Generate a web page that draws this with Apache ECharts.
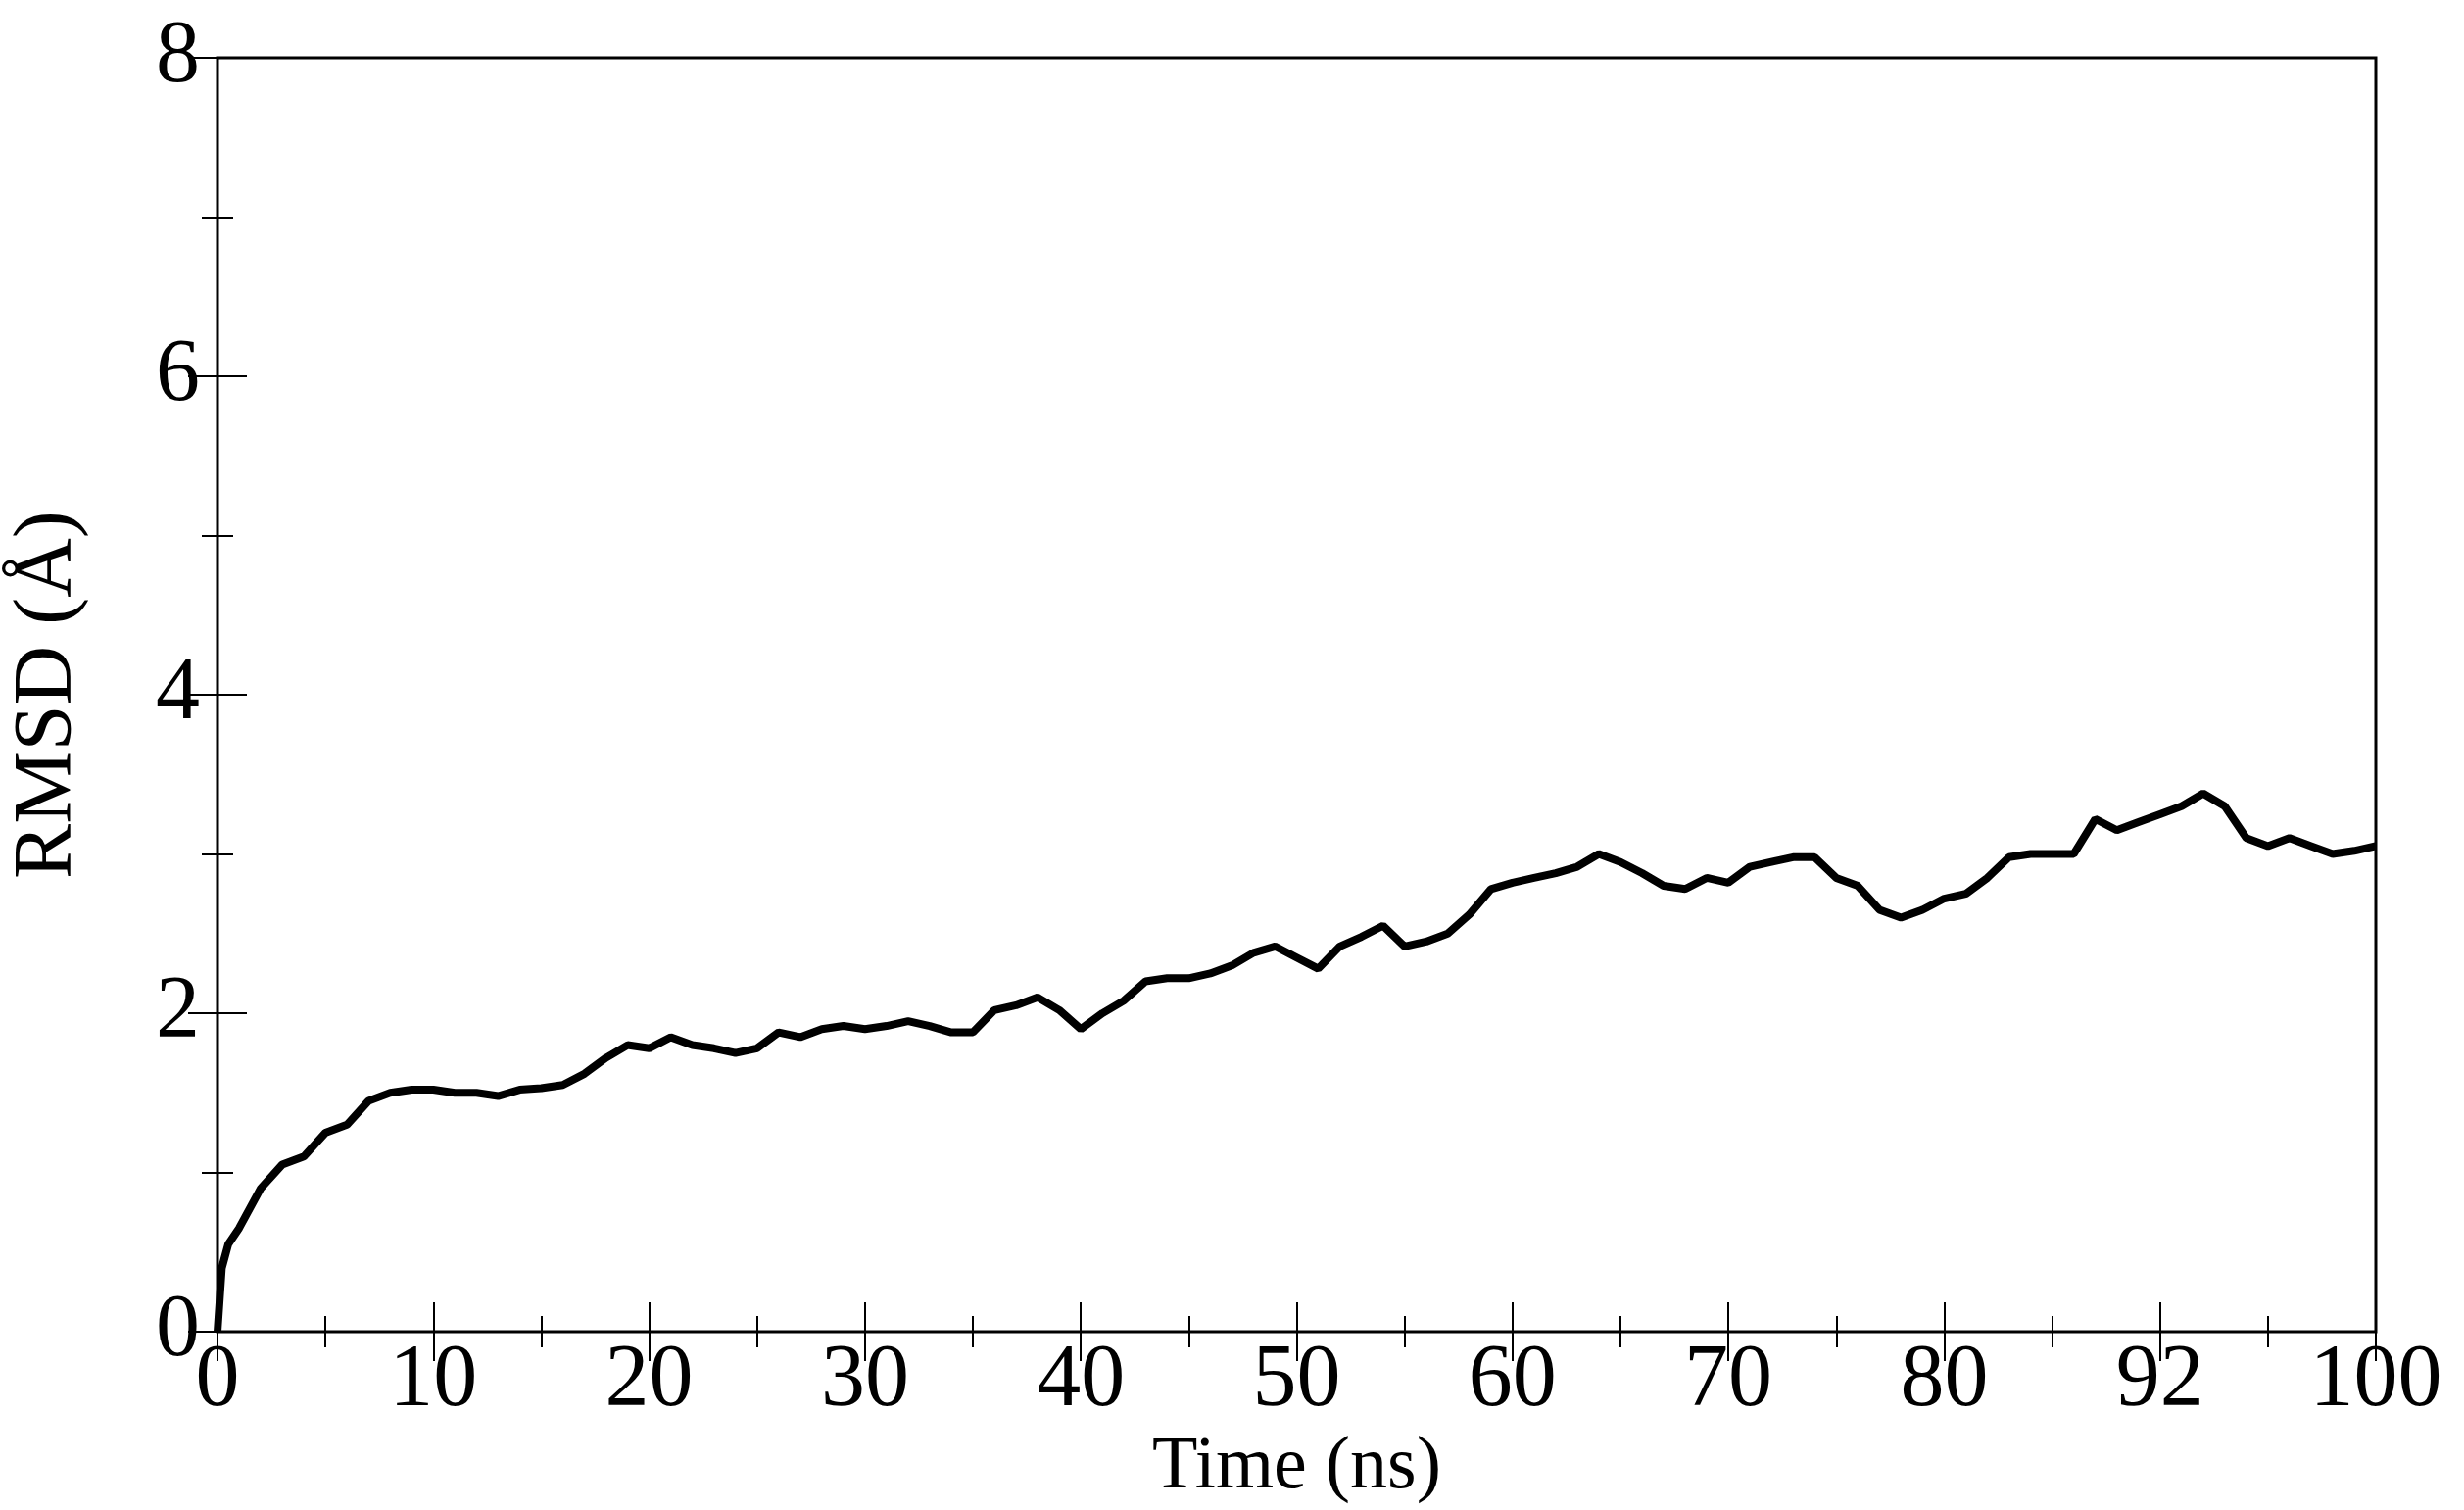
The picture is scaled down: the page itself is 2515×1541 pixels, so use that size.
<!DOCTYPE html>
<html style="height: 100%">
<head>
    <meta charset="utf-8">
</head>
<body style="height: 100%; margin: 0; background: #ffffff;">
    <div id="container" style="height: 100%"></div>
    <script src="https://cdn.jsdelivr.net/npm/echarts@6/dist/echarts.min.js"></script>
    <script>
        // time (ns) and RMSD (Å)
        var timeNs = [0, 0.2, 0.5, 1, 2, 3, 4, 5, 6, 7, 8, 9, 10, 11, 12, 13, 14, 15, 16, 17, 18, 19, 20,
            21, 22, 23, 24, 25, 26, 27, 28, 29, 30, 31, 32, 33, 34, 35, 36, 37, 38, 39, 40,
            41, 42, 43, 44, 45, 46, 47, 48, 49, 50, 51, 52, 53, 54, 55, 56, 57, 58, 59, 60,
            61, 62, 63, 64, 65, 66, 67, 68, 69, 70, 71, 72, 73, 74, 75, 76, 77, 78, 79, 80,
            81, 82, 83, 84, 85, 86, 87, 88, 89, 90, 91, 92, 93, 94, 95, 96, 97, 98, 99, 100];
        var rmsd = [0, 0.4, 0.55, 0.65, 0.9, 1.05, 1.1, 1.25, 1.3, 1.45, 1.5, 1.52, 1.52, 1.5, 1.5, 1.48, 1.52, 1.53, 1.55, 1.62, 1.72, 1.8, 1.78,
            1.85, 1.8, 1.78, 1.75, 1.78, 1.88, 1.85, 1.9, 1.92, 1.9, 1.92, 1.95, 1.92, 1.88, 1.88, 2.02, 2.05, 2.1, 2.02, 1.9,
            2.0, 2.08, 2.2, 2.22, 2.22, 2.25, 2.3, 2.38, 2.42, 2.35, 2.28, 2.42, 2.48, 2.55, 2.42, 2.45, 2.5, 2.62, 2.78, 2.82,
            2.85, 2.88, 2.92, 3.0, 2.95, 2.88, 2.8, 2.78, 2.85, 2.82, 2.92, 2.95, 2.98, 2.98, 2.85, 2.8, 2.65, 2.6, 2.65, 2.72,
            2.75, 2.85, 2.98, 3.0, 3.0, 3.0, 3.22, 3.15, 3.2, 3.25, 3.3, 3.38, 3.3, 3.1, 3.05, 3.1, 3.05, 3.0, 3.02, 3.05];
        // x tick labels as printed (note "92" at the 90 position)
        var xTickLabels = ['0', '10', '20', '30', '40', '50', '60', '70', '80', '92', '100'];

        var font = 'Liberation Serif';
        var chart = echarts.init(document.getElementById('container'));

        var tickStyle = { inside: true, length: 30, lineStyle: { color: '#000', width: 2 } };
        var minorStyle = { show: true, splitNumber: 2, length: 16, lineStyle: { color: '#000', width: 2 } };
        var mirrorAxis = {
            axisLine: { show: false },
            axisTick: tickStyle,
            minorTick: minorStyle,
            axisLabel: { show: false },
            splitLine: { show: false }
        };

        var option = {
            animation: false,
            grid: { left: 220, right: 90, top: 59, bottom: 168, show: true, borderColor: '#000', borderWidth: 3 },
            xAxis: [{
                type: 'value', min: 0, max: 100, interval: 10,
                name: 'Time (ns)', nameLocation: 'middle', nameGap: 100,
                nameTextStyle: { fontFamily: font, fontSize: 76, color: '#000' },
                axisLine: { show: false },
                axisTick: tickStyle,
                minorTick: minorStyle,
                axisLabel: {
                    fontFamily: font, fontSize: 90, color: '#000', margin: 6,
                    formatter: function (v) { return xTickLabels[Math.round(v / 10)]; }
                },
                splitLine: { show: false }
            }, Object.assign({ type: 'value', position: 'top', min: 0, max: 100, interval: 10 }, mirrorAxis)],
            yAxis: [{
                type: 'value', min: 0, max: 8, interval: 2,
                name: 'RMSD (Å)', nameLocation: 'middle', nameGap: 130, nameRotate: 90,
                nameTextStyle: { fontFamily: font, fontSize: 84, color: '#000' },
                axisLine: { show: false },
                axisTick: tickStyle,
                minorTick: minorStyle,
                axisLabel: { fontFamily: font, fontSize: 90, color: '#000', margin: 18 },
                splitLine: { show: false }
            }, Object.assign({ type: 'value', position: 'right', min: 0, max: 8, interval: 2 }, mirrorAxis)],
            series: [{
                type: 'line',
                data: timeNs.map(function (t, i) { return [t, rmsd[i]]; }),
                showSymbol: false,
                lineStyle: { color: '#000', width: 8 }
            }]
        };
        chart.setOption(option);
        window.addEventListener('resize', chart.resize);
    </script>
</body>
</html>
